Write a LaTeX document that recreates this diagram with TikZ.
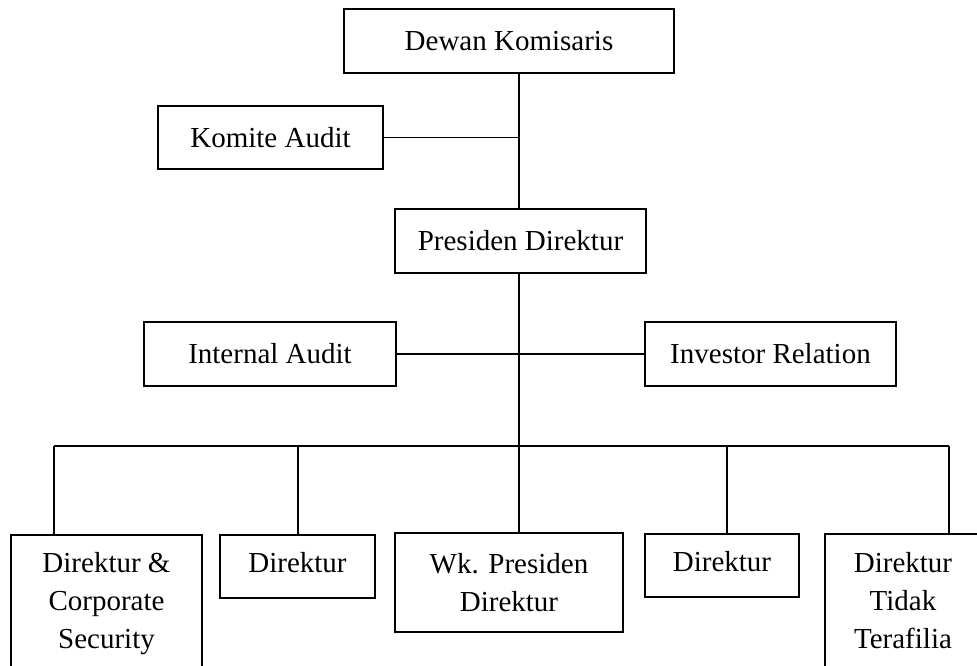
\documentclass[tikz,border=0pt]{standalone}
\usepackage{fontspec}
\setmainfont{Liberation Serif}
\begin{document}
\begin{tikzpicture}[x=1pt,y=-1pt,
  unit/.style={draw, line width=1.3pt, inner sep=0pt, align=center,
    font=\fontsize{29}{38}\selectfont},
  topline/.style={text height=20pt, text depth=9pt},
  link/.style={line width=1.3pt}]
\useasboundingbox (0,0) rectangle (977,666);
\clip (0,0) rectangle (977,666);

% board level
\node[unit, minimum width=330, minimum height=64] (dk) at (509,41) {Dewan Komisaris};
\node[unit, minimum width=225, minimum height=63] (ka) at (270.5,137.5) {Komite Audit};
\node[unit, minimum width=251, minimum height=64] (pd) at (520.5,241) {Presiden Direktur};

% staff units beside the president
\node[unit, minimum width=252, minimum height=64] (ia) at (270,354) {Internal Audit};
\node[unit, minimum width=251, minimum height=64] (ir) at (770.5,354) {Investor Relation};

% directors
\node[unit, minimum width=191, minimum height=138] (cs) at (106.5,604) {Direktur \&\\Corporate\\Security};
\node[unit, topline, minimum width=155, minimum height=63] (d1) at (297.5,566.5) {Direktur};
\node[unit, minimum width=228, minimum height=99] (wk) at (509,582.5) {Wk. Presiden\\Direktur};
\node[unit, topline, minimum width=154, minimum height=63] (d2) at (722,565.5) {Direktur};
\node[unit, minimum width=156, minimum height=134] (tt) at (903,601) {Direktur\\Tidak\\Terafilia};

% trunk and bus positions
\coordinate (trunk) at (519,0);
\coordinate (busL) at (54,446);
\coordinate (busA) at (298,446);
\coordinate (busB) at (727,446);
\coordinate (busR) at (949,446);

% connectors
\draw[link] (trunk |- dk.south) -- (trunk |- pd.north);
\draw[link] (ka.east) -- (ka.east -| trunk);
\draw[link] (trunk |- pd.south) -- (trunk |- wk.north);
\draw[link] (ia.east) -- (ir.west);
\draw[link] (busL) -- (busR);
\draw[link] (busL) -- (busL |- cs.north);
\draw[link] (busA) -- (busA |- d1.north);
\draw[link] (busB) -- (busB |- d2.north);
\draw[link] (busR) -- (busR |- tt.north);
\end{tikzpicture}
\end{document}
